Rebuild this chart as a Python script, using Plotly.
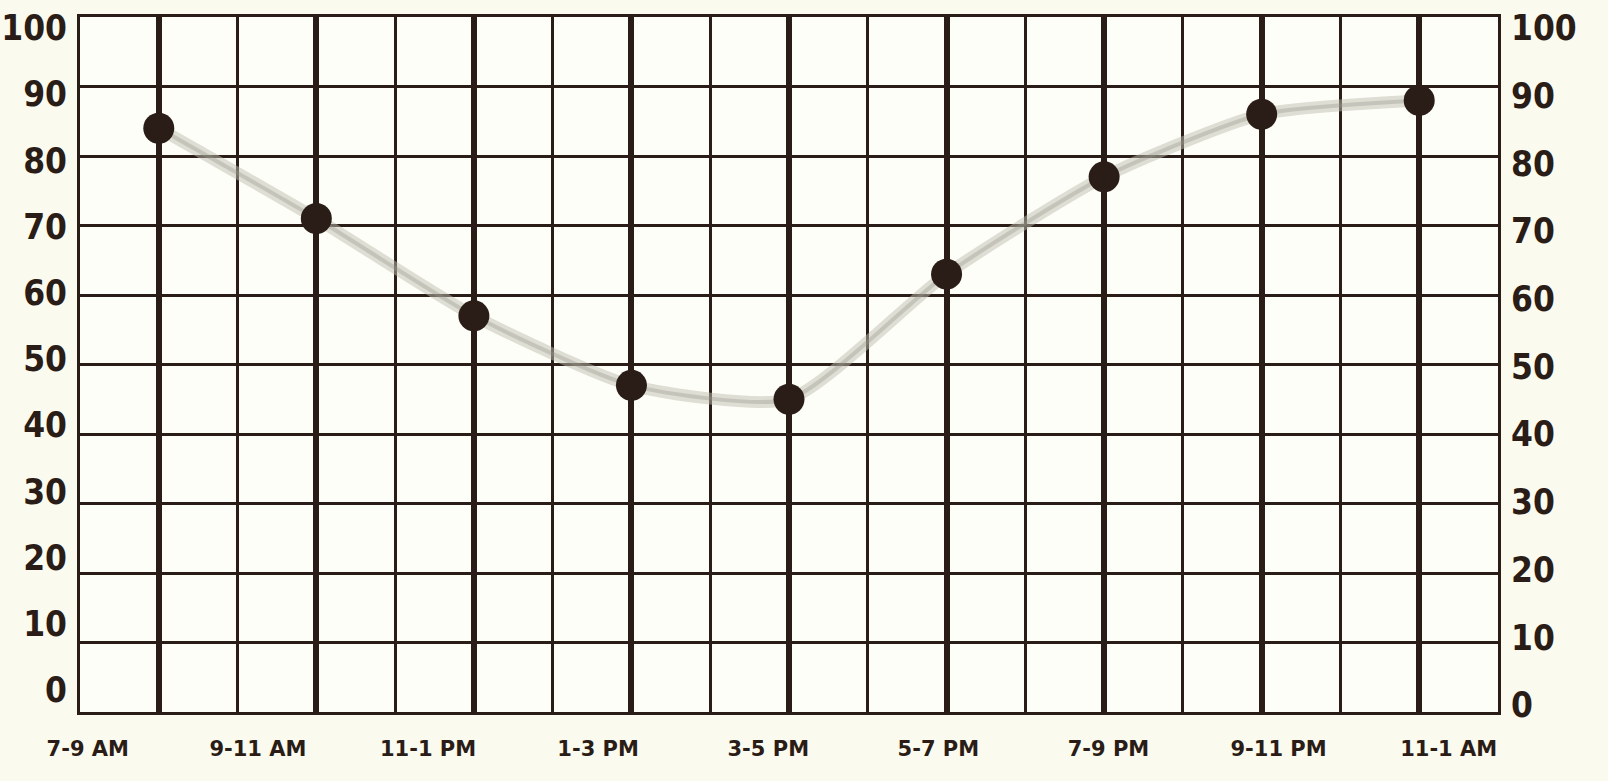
import plotly.graph_objects as go

# ---- data ----
periods = ["7-9 AM", "9-11 AM", "11-1 PM", "1-3 PM", "3-5 PM",
           "5-7 PM", "7-9 PM", "9-11 PM", "11-1 AM"]
values = [84, 71, 57, 47, 45, 63, 77, 86, 88]
y_ticks = [0, 10, 20, 30, 40, 50, 60, 70, 80, 90, 100]

idx = list(range(len(periods)))
INK = "#2a1c16"

fig = go.Figure()

# faded pencil-like connecting line
fig.add_trace(go.Scatter(
    x=idx, y=values, mode="lines",
    line=dict(color="rgba(190,190,175,0.5)", width=12, shape="spline", smoothing=0.6),
    hoverinfo="skip", showlegend=False))
fig.add_trace(go.Scatter(
    x=idx, y=values, mode="lines",
    line=dict(color="rgba(150,150,140,0.35)", width=4, shape="spline", smoothing=0.6),
    hoverinfo="skip", showlegend=False))
# points
fig.add_trace(go.Scatter(
    x=idx, y=values, mode="markers",
    marker=dict(size=31, color=INK),
    showlegend=False))

# carrier traces for the label axes
fig.add_trace(go.Scatter(x=idx, y=values, xaxis="x2", yaxis="y2", mode="markers",
                         marker=dict(opacity=0), hoverinfo="skip", showlegend=False))
fig.add_trace(go.Scatter(x=idx, y=values, xaxis="x", yaxis="y3", mode="markers",
                         marker=dict(opacity=0), hoverinfo="skip", showlegend=False))

yfont = dict(family="DejaVu Sans Condensed, Liberation Sans Narrow, sans-serif",
             size=35, color=INK, weight="bold")
xfont = dict(family="DejaVu Sans, Lato, sans-serif", size=21, color=INK, weight="bold")

fig.update_layout(
    width=1608, height=781,
    margin=dict(l=80, r=110, t=17, b=69),
    paper_bgcolor="#fbfaee",
    plot_bgcolor="#fefef8",
    xaxis=dict(range=[-0.5, 8.5], tickmode="linear", tick0=0, dtick=1,
               showticklabels=False, ticks="", automargin=False,
               showgrid=True, gridcolor=INK, gridwidth=6,
               minor=dict(tick0=0, dtick=0.5, showgrid=True, gridcolor=INK, gridwidth=3),
               showline=True, mirror=True, linecolor=INK, linewidth=3, zeroline=False),
    yaxis=dict(range=[0, 100], tickmode="linear", tick0=0, dtick=10,
               showticklabels=False, ticks="", automargin=False,
               showgrid=True, gridcolor=INK, gridwidth=3,
               showline=True, mirror=True, linecolor=INK, linewidth=3, zeroline=False),
    xaxis2=dict(overlaying="x", anchor="y", side="bottom", range=[-0.046, 8.29],
                tickmode="array", tickvals=idx, ticktext=periods, automargin=False,
                showgrid=False, zeroline=False, showline=False, ticks="",
                tickfont=xfont, ticklabelstandoff=22),
    yaxis2=dict(overlaying="y", anchor="x2", side="left", range=[-3.32, 101.66],
                tickmode="array", tickvals=y_ticks, ticktext=[str(v) for v in y_ticks],
                showgrid=False, zeroline=False, showline=False, ticks="", automargin=False,
                tickfont=yfont, ticklabelstandoff=12),
    yaxis3=dict(overlaying="y", anchor="x", side="right", range=[-1.03, 101.6],
                tickmode="array", tickvals=y_ticks, ticktext=[str(v) for v in y_ticks],
                showgrid=False, zeroline=False, showline=False, ticks="", automargin=False,
                tickfont=yfont, ticklabelstandoff=12),
)

fig.write_html("out.html", config={"displayModeBar": False},
               post_script="document.body.style.margin='0';document.body.style.background='#fbfaee';")
